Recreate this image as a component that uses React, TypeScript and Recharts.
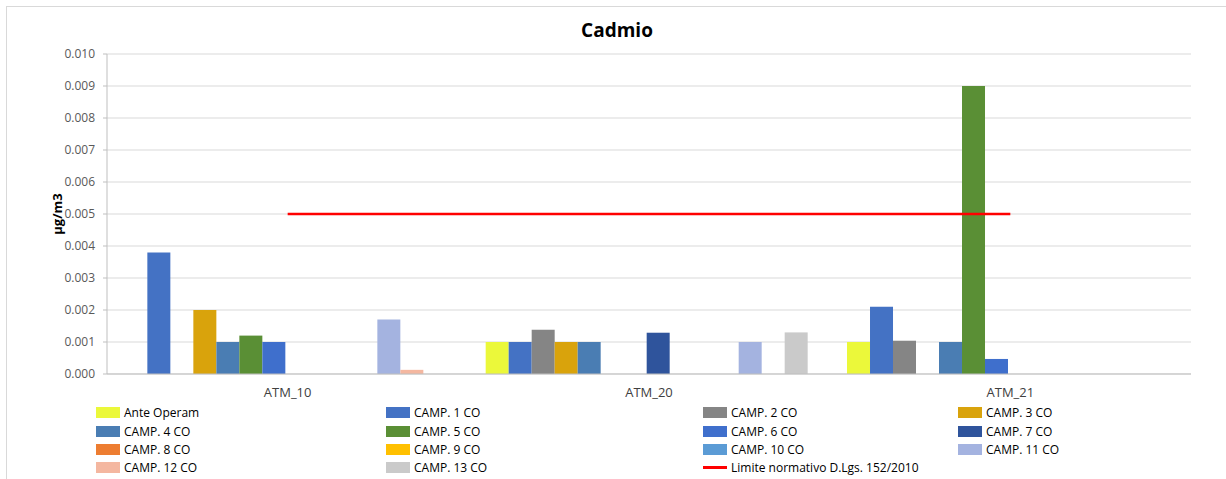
import { ComposedChart, Bar, Line, XAxis, YAxis, CartesianGrid } from 'recharts'

const categories = ['ATM_10', 'ATM_20', 'ATM_21']

const anteOperam = [0, 0.001, 0.001]
const camp1 = [0.0038, 0.001, 0.0021]
const camp2 = [0, 0.00138, 0.00104]
const camp3 = [0.002, 0.001, 0]
const camp4 = [0.001, 0.001, 0.001]
const camp5 = [0.0012, 0, 0.009]
const camp6 = [0.001, 0, 0.00047]
const camp7 = [0, 0.00129, 0]
const camp8 = [0, 0, 0]
const camp9 = [0, 0, 0]
const camp10 = [0, 0, 0]
const camp11 = [0.0017, 0.001, 0]
const camp12 = [0.00013, 0, 0]
const camp13 = [0, 0.0013, 0]
const limite = [0.005, 0.005, 0.005]

const yTicks = [0, 0.001, 0.002, 0.003, 0.004, 0.005, 0.006, 0.007, 0.008, 0.009, 0.01]

const series = [
  { key: 'ante', name: 'Ante Operam', color: '#ebf83a', values: anteOperam },
  { key: 'c1', name: 'CAMP. 1 CO', color: '#4472c4', values: camp1 },
  { key: 'c2', name: 'CAMP. 2 CO', color: '#858585', values: camp2 },
  { key: 'c3', name: 'CAMP. 3 CO', color: '#d9a30c', values: camp3 },
  { key: 'c4', name: 'CAMP. 4 CO', color: '#4a7db3', values: camp4 },
  { key: 'c5', name: 'CAMP. 5 CO', color: '#5a8f35', values: camp5 },
  { key: 'c6', name: 'CAMP. 6 CO', color: '#3f6fcc', values: camp6 },
  { key: 'c7', name: 'CAMP. 7 CO', color: '#2f549c', values: camp7 },
  { key: 'c8', name: 'CAMP. 8 CO', color: '#ed7d31', values: camp8 },
  { key: 'c9', name: 'CAMP. 9 CO', color: '#ffc000', values: camp9 },
  { key: 'c10', name: 'CAMP. 10 CO', color: '#5b9bd5', values: camp10 },
  { key: 'c11', name: 'CAMP. 11 CO', color: '#a4b3e0', values: camp11 },
  { key: 'c12', name: 'CAMP. 12 CO', color: '#f4b7a0', values: camp12 },
  { key: 'c13', name: 'CAMP. 13 CO', color: '#cacaca', values: camp13 },
]

const lineName = 'Limite normativo D.Lgs. 152/2010'

const data = categories.map((cat, i) => {
  const row: Record<string, string | number> = { cat, limite: limite[i] }
  series.forEach((s) => {
    row[s.key] = s.values[i]
  })
  return row
})

const legendCols = [96, 386, 703, 958]
const legendRows = [412, 431, 449, 467]

const legendItems = [
  ...series.map((s) => ({ name: s.name, color: s.color, line: false })),
  { name: lineName, color: '#ff0000', line: true },
]

export default function App() {
  return (
    <div style={{ position: 'absolute', left: 0, top: 0, width: 1226, height: 479, background: '#fff', overflow: 'hidden', fontFamily: '"Open Sans", sans-serif' }}>
      <div style={{ position: 'absolute', left: 6, top: 6, width: 1240, height: 490, border: '1px solid #d9d9d9' }} />
      <div style={{ position: 'absolute', left: 0, top: 17, width: 1234, textAlign: 'center', fontSize: 19, fontWeight: 700, color: '#000' }}>
        Cadmio
      </div>
      <div style={{ position: 'absolute', left: 0, top: 0 }}>
        <ComposedChart
          width={1226}
          height={479}
          data={data}
          margin={{ top: 54, right: 35, bottom: 75, left: 27 }}
          barGap={0}
          barCategoryGap="4.8%"
        >
          <CartesianGrid vertical={false} stroke="#d9d9d9" />
          <XAxis
            dataKey="cat"
            height={30}
            tick={{ fill: '#404040', fontSize: 13 }}
            tickLine={false}
            axisLine={{ stroke: '#bfbfbf' }}
            tickMargin={8}
          />
          <YAxis
            width={80}
            domain={[0, 0.01]}
            ticks={yTicks}
            interval={0}
            tickFormatter={(v: number) => v.toFixed(3)}
            tick={{ fill: '#595959', fontSize: 12 }}
            tickSize={4}
            tickMargin={8}
            tickLine={{ stroke: '#bfbfbf' }}
            axisLine={{ stroke: '#bfbfbf' }}
            label={{
              value: 'µg/m3',
              angle: -90,
              position: 'insideLeft',
              offset: 30,
              style: { textAnchor: 'middle', fontWeight: 700, fontSize: 13, fill: '#000' },
            }}
          />
          {series.map((s) => (
            <Bar key={s.key} dataKey={s.key} name={s.name} fill={s.color} isAnimationActive={false} />
          ))}
          <Line
            dataKey="limite"
            name={lineName}
            stroke="#ff0000"
            strokeWidth={2.5}
            dot={false}
            activeDot={false}
            type="linear"
            isAnimationActive={false}
          />
        </ComposedChart>
      </div>
      {legendItems.map((item, i) => {
        const col = i % 4
        const row = Math.floor(i / 4)
        return (
          <div
            key={item.name}
            style={{
              position: 'absolute',
              left: legendCols[col],
              top: legendRows[row] - 9,
              height: 18,
              display: 'flex',
              alignItems: 'center',
              fontSize: 12,
              color: '#000',
              whiteSpace: 'nowrap',
            }}
          >
            {item.line ? (
              <span style={{ display: 'inline-block', width: 24, height: 3, background: item.color, marginRight: 4 }} />
            ) : (
              <span style={{ display: 'inline-block', width: 24, height: 11, background: item.color, marginRight: 4 }} />
            )}
            {item.name}
          </div>
        )
      })}
    </div>
  )
}
